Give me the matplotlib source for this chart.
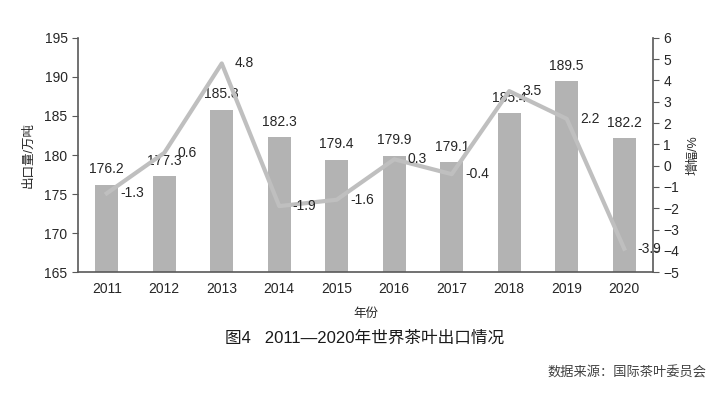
import matplotlib
matplotlib.use("Agg")
import matplotlib.pyplot as plt
import numpy as np

plt.rcParams['font.family'] = ['Liberation Sans', 'Noto Sans CJK SC', 'DejaVu Sans']

years = ['2011', '2012', '2013', '2014', '2015', '2016', '2017', '2018', '2019', '2020']
exports = [176.2, 177.3, 185.8, 182.3, 179.4, 179.9, 179.1, 185.4, 189.5, 182.2]
growth = [-1.3, 0.6, 4.8, -1.9, -1.6, 0.3, -0.4, 3.5, 2.2, -3.9]

bar_color = '#b3b3b3'
line_color = '#bfbfbf'
spine_color = '#595959'
text_color = '#262626'

fig = plt.figure(figsize=(7.17, 3.99), dpi=100)
ax = fig.add_axes([0.1088, 0.318, 0.8019, 0.587])
x = np.arange(len(years))

ax.bar(x, exports, width=0.4, color=bar_color, zorder=2)
ax.set_ylim(165, 195)
ax.set_xlim(-0.5, len(years) - 0.5)
ax.set_yticks(np.arange(165, 196, 5))
ax.set_xticks(x)
ax.set_xticklabels(years)
ax.tick_params(axis='x', length=0, pad=7, labelsize=10, colors=text_color)
ax.tick_params(axis='y', direction='out', length=4, color=spine_color, labelsize=10, labelcolor=text_color)
for sp in ['top', 'right']:
    ax.spines[sp].set_visible(False)
for sp in ['left', 'bottom']:
    ax.spines[sp].set_color(spine_color)
    ax.spines[sp].set_linewidth(1.2)

for xi, v in zip(x, exports):
    ax.annotate(f'{v:.1f}', (xi, v), xytext=(0, 6), textcoords='offset points',
                ha='center', va='bottom', fontsize=10, color=text_color)

ax2 = ax.twinx()
ax2.plot(x, growth, color=line_color, linewidth=3, zorder=3)
ax2.set_ylim(-5, 6)
ax2.set_yticks(np.arange(-5, 7, 1))
ax2.tick_params(axis='y', direction='out', length=4, color=spine_color, labelsize=10, labelcolor=text_color)
for sp in ['top', 'left', 'bottom']:
    ax2.spines[sp].set_visible(False)
ax2.spines['right'].set_color(spine_color)
ax2.spines['right'].set_linewidth(1.2)

for xi, v in zip(x, growth):
    ax2.annotate(f'{v:.1f}', (xi, v), xytext=(9.5, 0), textcoords='offset points',
                 ha='left', va='center', fontsize=10, color=text_color)

ax.set_ylabel('出口量/万吨', fontsize=9, color=text_color, labelpad=7)
ax2.set_ylabel('增幅/%', fontsize=9, color=text_color, rotation=90, labelpad=6)
ax.set_xlabel('年份', fontsize=9, color=text_color, labelpad=9)

fig.text(0.509, 0.153, '图4   2011—2020年世界茶叶出口情况', ha='center', va='center',
         fontsize=12, color='#1a1a1a')
fig.text(0.985, 0.065, '数据来源：国际茶叶委员会', ha='right', va='center',
         fontsize=9.5, color='#404040')

fig.savefig('out.png', dpi=100)
